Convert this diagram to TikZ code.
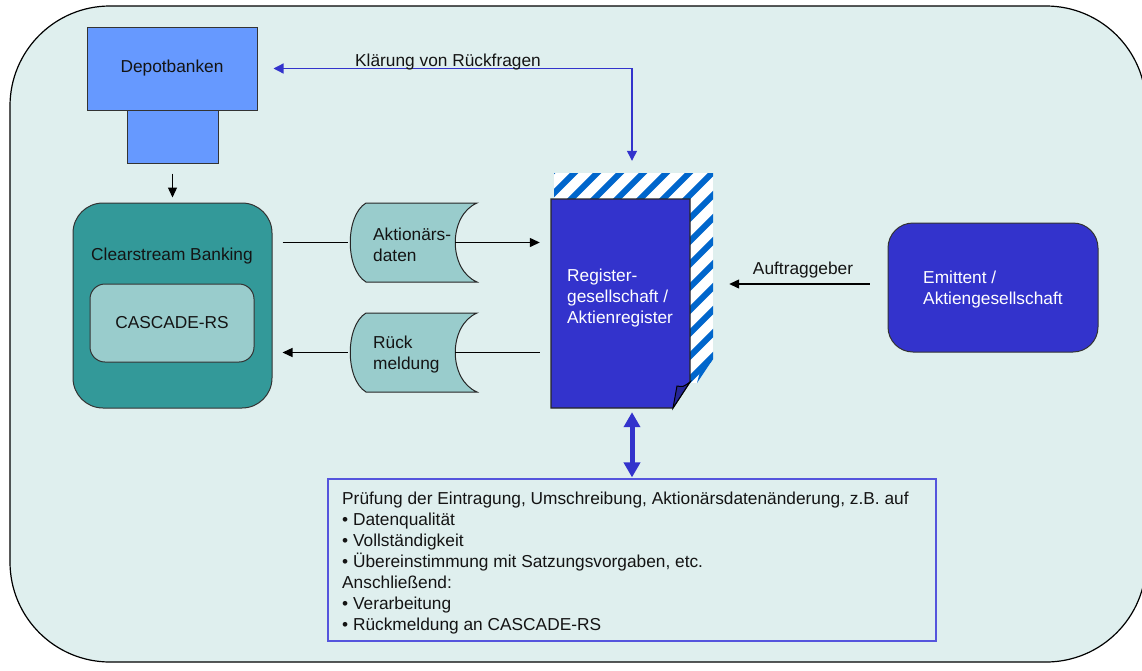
\documentclass[tikz,border=0pt]{standalone}
\usepackage{fontspec}
\setmainfont{Liberation Sans}
\usetikzlibrary{arrows.meta,calc}
\definecolor{bgc}{RGB}{223,239,238}
\definecolor{depotc}{RGB}{102,153,255}
\definecolor{tealc}{RGB}{51,153,153}
\definecolor{lteal}{RGB}{153,204,204}
\definecolor{royal}{RGB}{51,51,204}
\definecolor{stripec}{RGB}{0,102,204}
\definecolor{foldc}{RGB}{38,38,150}
\definecolor{infob}{RGB}{85,85,221}
\definecolor{txt}{RGB}{20,20,20}
\tikzset{
  box/.style={draw=black!80, line width=1pt, inner sep=0pt},
  arr/.style={draw=black, line width=1.3pt, -{Triangle[length=10pt,width=9pt]}},
  plain/.style={draw=black, line width=1.3pt},
  blarr/.style={draw=royal, line width=1.3pt},
  lbl/.style={inner sep=0pt, align=left, text=txt},
  anchorbox/.style={draw=none, inner sep=0pt},
  tape/.pic={\draw[fill=lteal, draw=black!85, line width=1pt]
     (-46,-39.5) -- (65,-39.5) .. controls (36,-27) and (36,27) .. (65,39.5)
     -- (-46,39.5) .. controls (-67,27) and (-67,-27) .. (-46,-39.5) -- cycle;}
}
\begin{document}
\begin{tikzpicture}[x=1pt,y=-1pt,font=\fontsize{17.3}{21}\selectfont]
\useasboundingbox (0,0) rectangle (1142,670);
% background panel
\draw[fill=bgc, line width=1.2pt, rounded corners=100pt] (10,6) rectangle (1146,662);

% Depotbanken
\node[box, fill=depotc, minimum width=91pt, minimum height=53pt] (depotlow) at (172.5,136.5) {};
\node[box, fill=depotc, minimum width=170pt, minimum height=83pt, text=txt] (depot) at (172,68.5) {Depotbanken};

% Clearstream
\node[box, fill=tealc, rounded corners=30pt, minimum width=199pt, minimum height=205pt] (cb) at (172.5,305.5) {};
\node[lbl] (cbl) at (172,256) {Clearstream Banking};
\node[box, fill=lteal, rounded corners=15pt, minimum width=164pt, minimum height=78pt, text=txt] (cas) at (172,323) {CASCADE-RS};

% tapes
\pic at (412,242.5) {tape};
\node[anchorbox, minimum width=129pt, minimum height=79pt] (tapeA) at (412.5,242.5) {};
\node[lbl, anchor=west] (tapeAt) at (373,245) {Aktionärs-\\daten};
\pic at (412,352.5) {tape};
\node[anchorbox, minimum width=129pt, minimum height=79pt] (tapeR) at (412.5,352.5) {};
\node[lbl, anchor=west] (tapeRt) at (373,355) {Rück\\meldung};

% Register document: striped shadow
\node[anchorbox, minimum width=159pt, minimum height=210pt] (shadow) at (633.5,278) {};
\begin{scope}
  \clip (554,173) -- (713,173) -- (713,359) -- (697,383) -- (554,383) -- cycle;
  \fill[white] (554,173) rectangle (713,383);
  \foreach \i in {-12,...,8}
    \draw[stripec, line width=6pt] ({554+\i*23},400) -- ++(260,-260);
\end{scope}
\fill[stripec] (697,383) -- (713,359) .. controls (707,362) .. (702,364) -- cycle;
% main page
\draw[fill=royal, draw=black!85, line width=1.2pt] (551,199) -- (690,199) -- (690,382) -- (673,408) -- (551,408) -- cycle;
\draw[fill=foldc, draw=black, line width=1pt] (673,408) -- (677,386) .. controls (683,387) .. (690,382) -- cycle;
\node[anchorbox, minimum width=139pt, minimum height=209pt] (reg) at (620.5,303.5) {};
\node[lbl, text=white, anchor=west] (regt) at (567,298) {Register-\\gesellschaft /\\Aktienregister};

% Emittent
\node[box, fill=royal, rounded corners=25pt, minimum width=210pt, minimum height=129pt] (emit) at (993,287.5) {};
\node[lbl, text=white, anchor=west] (emitt) at (923,290) {Emittent /\\Aktiengesellschaft};

% info box
\node[draw=infob, line width=1.2pt, inner sep=0pt, minimum width=608pt, minimum height=162pt] (info) at (632,560) {};
\node[lbl, anchor=north west] (infot) at (342,492) {Prüfung der Eintragung, Umschreibung, Aktionärsdatenänderung, z.B. auf\\
• Datenqualität\\
• Vollständigkeit\\
• Übereinstimmung mit Satzungsvorgaben, etc.\\
Anschließend:\\
• Verarbeitung\\
• Rückmeldung an CASCADE-RS};

% connectors
\draw[arr, shorten <=10pt, shorten >=5pt] (depotlow.south) -- (cb.north);
\draw[plain, shorten <=10pt] (cb.east |- tapeA.west) -- (tapeA.west);
\draw[arr, shorten >=11pt] ($(tapeA.east)+(-22,0)$) -- (reg.west |- tapeA.east);
\draw[arr, shorten >=10pt] (tapeR.west) -- (cb.east |- tapeR.west);
\draw[plain, shorten >=11pt] ($(tapeR.east)+(-22,0)$) -- (reg.west |- tapeR.east);

\coordinate (kc) at (632,68.5);
\draw[blarr, {Triangle[length=10pt,width=10pt]}-{Triangle[length=10pt,width=10pt]}, shorten <=16pt, shorten >=12pt]
  (depot.east) -- (kc) -- (kc |- shadow.north);
\node[lbl, anchor=base] (klt) at (448,66) {Klärung von Rückfragen};

\coordinate (ea) at ([yshift=3.5pt]emit.west);
\draw[arr, shorten <=18pt, shorten >=16pt] (ea) -- (shadow.east |- ea);
\node[lbl, anchor=base] (aft) at (803,274) {Auftraggeber};

\draw[royal, line width=5pt, {Triangle[length=15pt,width=16pt]}-{Triangle[length=15pt,width=16pt]}, shorten <=4pt, shorten >=1pt]
  (reg.south -| info.north) -- (info.north);
\end{tikzpicture}
\end{document}
